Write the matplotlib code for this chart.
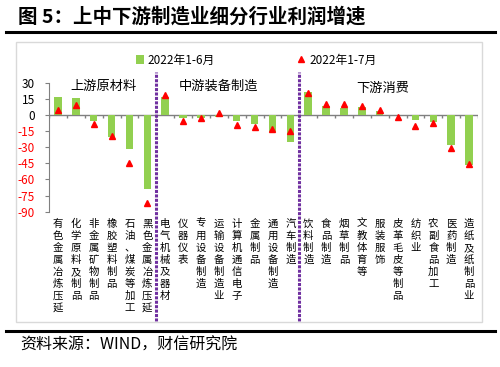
import matplotlib
matplotlib.use('Agg')
import matplotlib.pyplot as plt
from matplotlib.patches import Rectangle
from matplotlib.lines import Line2D

plt.rcParams['font.family'] = ['Noto Sans CJK SC', 'DejaVu Sans']

# industries, upstream / midstream / downstream
cats = ['有色金属冶炼压延', '化学原料及制品', '非金属矿物制品', '橡胶塑料制品',
        '石油、煤炭等加工', '黑色金属冶炼压延',
        '电气机械及器材', '仪器仪表', '专用设备制造', '运输设备制造业',
        '计算机通信电子', '金属制品', '通用设备制造', '汽车制造',
        '饮料制造', '食品制造', '烟草制品', '文教体育等', '服装服饰',
        '皮革毛皮等制品', '纺织业', '农副食品加工', '医药制造', '造纸及纸制品业']
jan_jun = [16.5, 16.0, -5.5, -20.5, -32.0, -68.5,
           17.0, -2.5, -3.0, -2.0, -6.0, -8.5, -15.5, -25.5,
           21.0, 8.5, 6.5, 7.0, 4.0, -0.5, -5.0, -6.5, -27.5, -46.5]
jan_jul = [5.0, 9.5, -8.5, -19.5, -44.5, -81.5,
           19.0, -6.0, -2.5, 1.5, -9.5, -11.0, -13.5, -14.5,
           20.0, 10.0, 10.0, 8.5, 4.5, -1.5, -10.0, -7.5, -31.0, -46.0]
groups = ['上游原材料', '中游装备制造', '下游消费']
group_pos = [(2.56, 26.3), (9.0, 26.6), (18.15, 24.8)]
dividers = [5.5, 13.5]
yticks = [30, 15, 0, -15, -30, -45, -60, -75, -90]

W, H = 500, 367
fig = plt.figure(figsize=(5, 3.67), dpi=100)

# frame around chart and the two black rules
fig.patches.append(Rectangle((16 / W, 1 - 322 / H), 466 / W, 280 / H,
                             transform=fig.transFigure, fill=False,
                             ec='#D9D9D9', lw=1))
fig.lines.append(Line2D([6 / W, 495 / W], [1 - 32 / H, 1 - 32 / H],
                        transform=fig.transFigure, color='black', lw=2.2))
fig.lines.append(Line2D([6 / W, 495 / W], [1 - 331 / H, 1 - 331 / H],
                        transform=fig.transFigure, color='black', lw=2.2))

fig.text(18 / W, 1 - 17 / H, '图 5：上中下游制造业细分行业利润增速',
         fontsize=14, fontweight='bold', va='center', ha='left')
fig.text(20 / W, 1 - 345 / H, '资料来源：WIND，财信研究院',
         fontsize=11.5, style='italic', va='center', ha='left')

ax = fig.add_axes([49 / W, 1 - 211.7 / H, 429 / W, 129 / H])
x = list(range(len(cats)))
bars = ax.bar(x, jan_jun, width=0.42, color='#92D050', label='2022年1-6月', zorder=2)
tri, = ax.plot(x, jan_jul, ls='none', marker='^', ms=4.5, color='#FF0000',
               mec='#FF0000', label='2022年1-7月', zorder=3)

ax.set_xlim(-0.5, len(cats) - 0.5)
ax.set_ylim(-90, 30)
for s in ['top', 'right', 'bottom']:
    ax.spines[s].set_visible(False)
ax.spines['left'].set_color('#808080')

# zero line with boundary ticks
ax.axhline(0, color='#808080', lw=1, zorder=1)
bounds = [i - 0.5 for i in range(len(cats) + 1)]
ax.vlines(bounds, -2.8, 0, color='#808080', lw=1, zorder=1)

ax.set_yticks(yticks)
ax.set_yticklabels([str(v) for v in yticks])
for lab, v in zip(ax.get_yticklabels(), yticks):
    lab.set_color('red' if v < 0 else 'black')
ax.tick_params(axis='y', length=3, color='#808080', labelsize=8.5, pad=7)

ax.set_xticks(x)
ax.set_xticklabels(['\n'.join(c) for c in cats], fontsize=7.5,
                   va='top', linespacing=1.25)
ax.tick_params(axis='x', length=0, pad=5)

for name, (gx, gy) in zip(groups, group_pos):
    ax.text(gx, gy, name, fontsize=9.5, ha='center', va='center')

ax.vlines(dividers, -192, 40, colors='#7030A0', lw=2.2,
          linestyles=(0, (1.0, 0.45)), clip_on=False, zorder=4)

ax.legend([bars, tri], ['2022年1-6月', '2022年1-7月'],
          loc='center', bbox_to_anchor=(256 / W, 1 - 60 / H),
          bbox_transform=fig.transFigure, ncol=2, frameon=False,
          fontsize=8.5, columnspacing=7, handlelength=0.7,
          handletextpad=0.3, borderpad=0)

fig.savefig('out.png', dpi=100)
